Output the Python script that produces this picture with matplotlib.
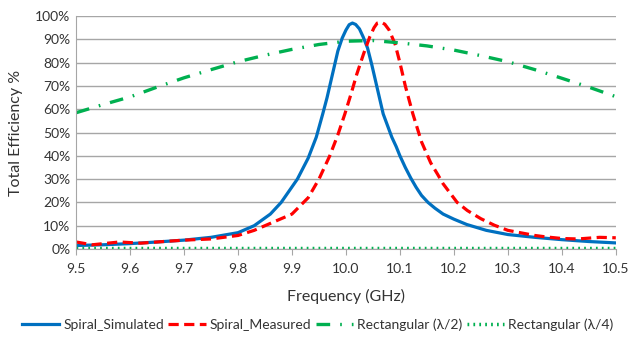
import numpy as np
import matplotlib.pyplot as plt
from matplotlib.ticker import FuncFormatter

plt.rcParams['font.family'] = ['Lato', 'DejaVu Sans']

# Spiral simulado (GHz, %)
f_sim = [9.50, 9.55, 9.60, 9.65, 9.70, 9.75, 9.80, 9.83, 9.86, 9.88, 9.91, 9.93,
         9.945, 9.957, 9.965, 9.975, 9.985, 9.993, 10.00, 10.006, 10.012, 10.018,
         10.025, 10.032, 10.04, 10.048, 10.055, 10.062, 10.069, 10.077, 10.085,
         10.093, 10.10, 10.11, 10.12, 10.13, 10.14, 10.152, 10.165, 10.18, 10.20,
         10.224, 10.26, 10.30, 10.35, 10.40, 10.45, 10.50]
e_sim = [1.5, 1.8, 2.3, 3.0, 3.8, 5.0, 7.0, 10.0, 15.0, 20.0, 30.0, 39.0,
         48.0, 58.0, 65.0, 75.0, 85.0, 90.5, 94.0, 96.3, 97.0, 96.4,
         94.5, 91.0, 86.3, 79.0, 72.0, 65.0, 58.0, 53.0, 48.0,
         44.0, 40.0, 35.0, 30.5, 26.5, 23.0, 20.0, 17.5, 15.0, 12.8,
         10.5, 8.0, 6.2, 5.0, 4.0, 3.2, 2.6]

# Spiral medido
f_meas = [9.50, 9.53, 9.58, 9.62, 9.65, 9.70, 9.75, 9.80, 9.83, 9.87, 9.90, 9.93,
          9.95, 9.97, 9.985, 9.998, 10.01, 10.02, 10.033, 10.044, 10.052, 10.058,
          10.065, 10.072, 10.08, 10.091, 10.10, 10.11, 10.124, 10.14, 10.157,
          10.17, 10.18, 10.193, 10.206, 10.225, 10.25, 10.275, 10.30, 10.35, 10.37,
          10.40, 10.43, 10.47, 10.50]
e_meas = [3.0, 1.8, 3.0, 2.5, 3.0, 3.8, 4.3, 5.8, 8.0, 12.0, 15.0, 22.0,
          30.0, 40.0, 49.0, 58.0, 67.0, 75.0, 84.0, 91.0, 95.0, 97.0,
          97.4, 96.5, 94.0, 88.0, 80.0, 70.0, 58.0, 46.0, 37.0,
          32.0, 28.0, 24.0, 20.0, 16.5, 13.0, 10.2, 8.0, 5.8, 5.2,
          4.5, 4.3, 5.0, 4.8]

# Rectangular lambda/2
f_r2 = [9.5, 9.55, 9.6, 9.65, 9.7, 9.75, 9.8, 9.85, 9.9, 9.95, 10.0, 10.05,
        10.1, 10.15, 10.2, 10.25, 10.3, 10.35, 10.4, 10.45, 10.5]
e_r2 = [58.5, 62.0, 65.3, 69.5, 73.5, 77.0, 80.4, 83.2, 85.7, 87.8, 89.2, 89.5,
        88.5, 87.2, 85.4, 83.0, 80.4, 77.0, 73.3, 69.5, 65.4]

# Rectangular lambda/4
f_r4 = [9.5, 10.0, 10.5]
e_r4 = [0.5, 0.5, 0.5]

fig, ax = plt.subplots(figsize=(6.29, 3.42), dpi=100)
fig.subplots_adjust(left=0.121, right=0.979, top=0.953, bottom=0.272)

ax.plot(f_sim, e_sim, color='#0070C0', lw=2.3, label='Spiral_Simulated')
ax.plot(f_meas, e_meas, color='#FF0000', lw=2.3, dashes=(3.2, 1.7), label='Spiral_Measured')
ax.plot(f_r2, e_r2, color='#00B050', lw=2.4, dashes=(4.1, 3.0, 0.5, 3.0), label='Rectangular (λ/2)')
ax.plot(f_r4, e_r4, color='#00B050', lw=2.5, dashes=(0.5, 1.2), label='Rectangular (λ/4)')

ax.set_xlim(9.5, 10.5)
ax.set_ylim(0, 100)
ax.set_xticks(np.arange(9.5, 10.51, 0.1))
ax.set_yticks(np.arange(0, 101, 10))
ax.xaxis.set_major_formatter(FuncFormatter(lambda v, p: '%.1f' % v))
ax.yaxis.set_major_formatter(FuncFormatter(lambda v, p: '%d%%' % round(v)))
ax.grid(axis='y', color='#A6A6A6', lw=1.0)
ax.set_axisbelow(True)
for s in ['top', 'right']:
    ax.spines[s].set_visible(False)
ax.spines['left'].set_color('#A6A6A6')
ax.spines['bottom'].set_color('#A6A6A6')
ax.tick_params(axis='y', length=0, labelsize=10, colors='#333333', pad=4)
ax.tick_params(axis='x', length=4, color='#A6A6A6', labelsize=10, labelcolor='#333333', pad=6)

ax.set_xlabel('Frequency (GHz)', fontsize=11.5, color='#333333', labelpad=10)
ax.set_ylabel('Total Efficiency %', fontsize=11.5, color='#333333', labelpad=9)

fig.legend(loc='lower center', bbox_to_anchor=(0.505, -0.005), ncol=4, frameon=False,
           fontsize=10, handlelength=2.7, columnspacing=0.3, handletextpad=0.3,
           labelcolor='#333333')

plt.savefig('out.png', dpi=100)
